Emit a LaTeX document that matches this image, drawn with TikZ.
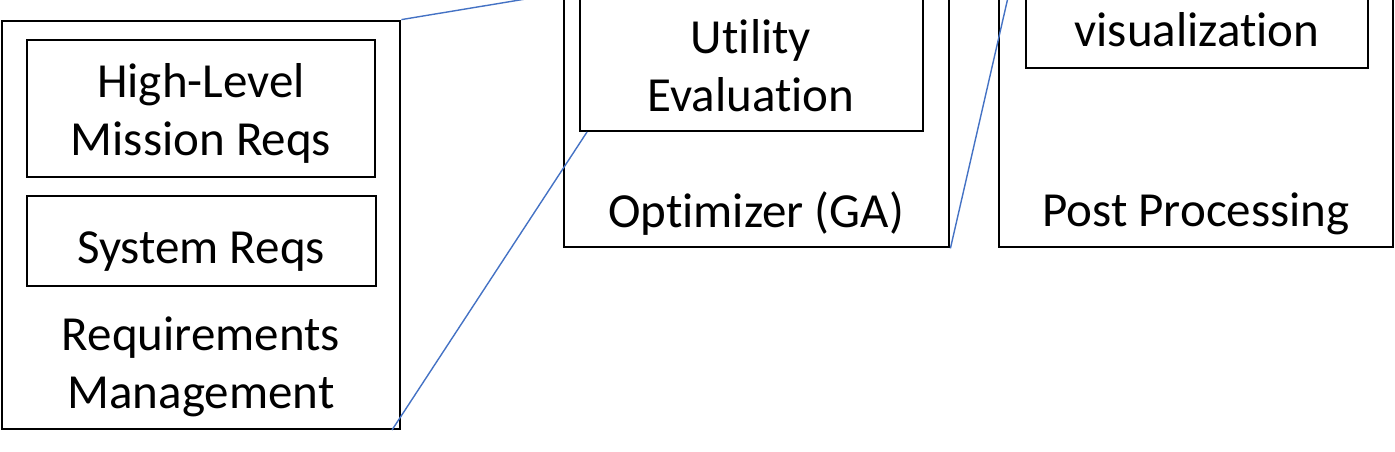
\documentclass[tikz,border=0pt]{standalone}
\usepackage{fontspec}
\setmainfont[Ligatures={NoCommon}]{Carlito}
\definecolor{callout}{RGB}{68,114,196}
\begin{document}
\begin{tikzpicture}[x=1pt,y=-1pt,
  box/.style={draw=black,line width=2.8pt,inner sep=0pt},
  lbl/.style={font=\fontsize{49}{58}\selectfont,align=center,inner sep=0pt},
  link/.style={draw=callout,line width=1.4pt}]
\useasboundingbox (0,0) rectangle (1395,451);
\clip (0,0) rectangle (1395,451);
% requirements management
\node[box,minimum width=398pt,minimum height=408pt] (req) at (201,225) {};
\node[box,minimum width=348pt,minimum height=137pt] (hl) at (201,108.5) {};
\node[box,minimum width=349pt,minimum height=90pt] (sys) at (201.5,241) {};
\node[lbl] (hlt) at (201,113) {High-Level\\Mission Reqs};
\node[lbl] (syst) at (201,252) {System Reqs};
\node[lbl] (reqt) at (201,367) {Requirements\\Management};
% optimizer
\node[box,minimum width=385pt,minimum height=297pt] (opt) at (756.5,98.5) {};
\node[box,minimum width=343pt,minimum height=181pt] (util) at (751.5,40.5) {};
\node[lbl] (utilt) at (751,66) {Utility\\Evaluation};
\node[lbl] (optt) at (756,214) {Optimizer (GA)};
% post processing
\node[box,minimum width=394pt,minimum height=297pt] (post) at (1196,98.5) {};
\node[box,minimum width=342pt,minimum height=118pt] (vis) at (1197,9) {};
\node[lbl] (vist) at (1197,30) {visualization};
\node[lbl] (postt) at (1196,214) {Post Processing};
% callout lines
\coordinate (c1) at (580,-10);
\coordinate (c2) at (587,132);
\coordinate (c3) at (1012,-20);
\coordinate (c4) at (392,430);
\draw[link] (req.north east) -- (c1);
\draw[link] (c4) -- (c2);
\draw[link] (opt.south east) -- (c3);
\end{tikzpicture}
\end{document}
